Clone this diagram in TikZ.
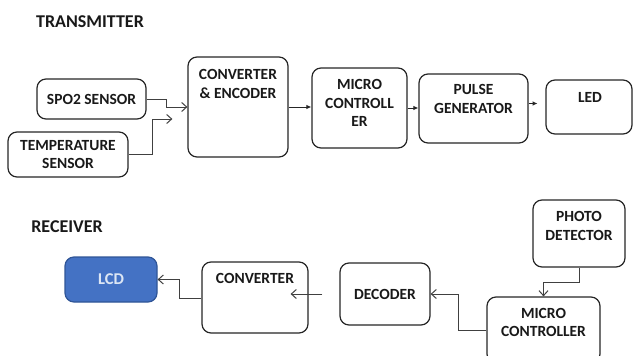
\documentclass[tikz,border=0pt]{standalone}
\usepackage{fontspec}
\setmainfont{Carlito}
\usepackage{tikz}
\usetikzlibrary{arrows.meta}
\definecolor{lcdfill}{HTML}{4472C4}
\definecolor{lcdline}{HTML}{2F5597}
\definecolor{lcdtext}{HTML}{DCE6F4}

\begin{document}
\begin{tikzpicture}[x=1pt,y=-1pt,
  box/.style={draw=black!85,line width=1.2pt,rounded corners=9pt,fill=white,align=center,
    font=\fontsize{15.5}{18}\selectfont\bfseries,text=black!90},
  boxtext/.style={align=center,font=\fontsize{15.5}{18.5}\selectfont\bfseries,text=black!90},
  heading/.style={font=\fontsize{18}{22}\selectfont\bfseries,text=black!90},
  wire/.style={draw=black!75,line width=1pt,-{Straight Barb[length=5pt,width=9pt]}},
  wirefill/.style={draw=black!85,line width=1pt,-{Latex[length=5pt,width=4.5pt]}}]
\useasboundingbox (0,0) rectangle (633,356);

\node[heading] (tx) at (90,22) {TRANSMITTER};
\node[box,minimum width=109,minimum height=40] (spo) at (91.5,99) {SPO2 SENSOR};
\node[box,minimum width=120,minimum height=45] (temp) at (68,154.5) {TEMPERATURE\\SENSOR};
\node[box,minimum width=100,minimum height=100] (enc) at (238,107) {};
\node[boxtext] (encT) at (238,84) {CONVERTER\\\& ENCODER};
\node[box,minimum width=95,minimum height=80] (mc) at (359.5,108) {};
\node[boxtext] (mcT) at (359.5,103) {MICRO\\CONTROLL\\ER};
\node[box,minimum width=109,minimum height=69] (pg) at (473.5,108.5) {};
\node[boxtext] (pgT) at (473.5,99) {PULSE\\GENERATOR};
\node[box,minimum width=86,minimum height=54] (led) at (589,107) {};
\node[boxtext] (ledT) at (590,97) {LED};

\draw[wire] (spo.east) -- ++(20,0) |- (enc.west);
\draw[wire] (temp.east) -- ++(24,0) |- ([shift={(-15,12)}]enc.west);
\draw[wirefill] (enc.east) -- (enc.east -| mc.west);
\draw[wirefill] (mc.east) -- (mc.east -| pg.west);
\draw[wirefill] ([yshift=5]pg.east) -- ++(9,0);

\node[heading] (rx) at (67,227) {RECEIVER};
\node[box,draw=lcdline,fill=lcdfill,text=lcdtext,font=\fontsize{16.5}{18}\selectfont\bfseries,
  minimum width=92,minimum height=45] (lcd) at (111,279.5) {LCD};
\node[box,minimum width=106,minimum height=71] (rconv) at (255,297.5) {};
\node[boxtext] (rconvT) at (255,278) {CONVERTER};
\node[box,minimum width=90,minimum height=62] (dec) at (385,294) {DECODER};
\node[box,minimum width=92,minimum height=67] (pd) at (579,233.5) {};
\node[boxtext] (pdT) at (579,226) {PHOTO\\DETECTOR};
\node[box,minimum width=113,minimum height=66] (rmc) at (543.5,330) {};
\node[boxtext] (rmcT) at (543.5,322.5) {MICRO\\CONTROLLER};

\draw[wire] ([yshift=-1]rconv.west) -- ++(-22,0) |- (lcd.east);
\draw[wire] ([xshift=-17]dec.west) -- ([xshift=-18]rconv.east |- dec.west);
\draw[wire] (pd.south) -- ++(0,15) -| (rmc.north);
\draw[wire] (rmc.west) -- ++(-28,0) |- (dec.east);

\end{tikzpicture}
\end{document}
